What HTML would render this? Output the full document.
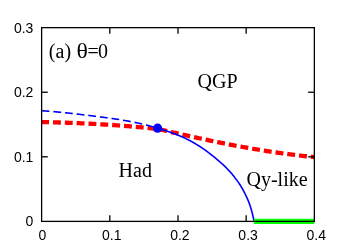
<!DOCTYPE html>
<html><head><meta charset="utf-8"><style>
html,body{margin:0;padding:0;background:#fff;}
svg{display:block;will-change:transform}
text{font-family:"Liberation Sans",sans-serif;font-size:14px;fill:#000}
.s{font-family:"Liberation Serif",serif;font-size:20px}
</style></head><body>
<svg width="356" height="249" viewBox="0 0 356 249">
<rect width="356" height="249" fill="#fff"/>
<path d="M41.62,122.06 L43.59,122.10 L45.55,122.14 L47.52,122.19 L49.48,122.23 L51.45,122.28 L53.41,122.33 L55.38,122.39 L57.35,122.44 L59.31,122.50 L61.28,122.56 L63.24,122.62 L65.21,122.69 L67.17,122.76 L69.14,122.83 L71.11,122.90 L73.07,122.98 L75.04,123.05 L77.00,123.13 L78.97,123.22 L80.94,123.30 L82.90,123.39 L84.87,123.48 L86.83,123.57 L88.80,123.66 L90.76,123.76 L92.73,123.86 L94.70,123.96 L96.66,124.07 L98.63,124.17 L100.59,124.28 L102.56,124.39 L104.52,124.51 L106.49,124.62 L108.46,124.74 L110.42,124.87 L112.39,125.01 L114.35,125.15 L116.32,125.30 L118.28,125.44 L120.25,125.59 L122.22,125.75 L124.18,125.90 L126.15,126.06 L128.11,126.22 L130.08,126.38 L132.05,126.54 L134.01,126.71 L135.98,126.88 L137.94,127.05 L139.91,127.22 L141.87,127.40 L143.84,127.58 L145.81,127.76 L147.77,127.95 L149.74,128.13 L151.70,128.32 L153.67,128.51 L155.63,128.70 L157.60,128.90 L159.58,129.33 L161.57,129.79 L163.55,130.25 L165.54,130.71 L167.52,131.17 L169.51,131.62 L171.49,132.08 L173.47,132.53 L175.46,132.97 L177.44,133.42 L179.43,133.86 L181.41,134.30 L183.39,134.74 L185.38,135.17 L187.36,135.60 L189.35,136.03 L191.33,136.47 L193.32,136.92 L195.30,137.36 L197.28,137.80 L199.27,138.24 L201.25,138.67 L203.24,139.10 L205.22,139.53 L207.20,139.95 L209.19,140.37 L211.17,140.79 L213.16,141.20 L215.14,141.61 L217.13,142.02 L219.11,142.43 L221.09,142.83 L223.08,143.23 L225.06,143.62 L227.05,144.01 L229.03,144.40 L231.01,144.78 L233.00,145.16 L234.98,145.54 L236.97,145.91 L238.95,146.28 L240.94,146.64 L242.92,147.00 L244.90,147.36 L246.89,147.71 L248.87,148.06 L250.86,148.41 L252.84,148.75 L254.82,149.09 L256.81,149.42 L258.79,149.75 L260.78,150.07 L262.76,150.39 L264.75,150.71 L266.73,151.02 L268.71,151.32 L270.70,151.63 L272.68,151.92 L274.67,152.22 L276.65,152.50 L278.63,152.79 L280.62,153.07 L282.60,153.34 L284.59,153.61 L286.57,153.87 L288.56,154.13 L290.54,154.39 L292.52,154.64 L294.51,154.88 L296.49,155.12 L298.48,155.35 L300.46,155.58 L302.44,155.81 L304.43,156.03 L306.41,156.24 L308.40,156.45 L310.38,156.65 L312.37,156.85 L314.35,157.04" fill="none" stroke="#f00" stroke-width="4.3" stroke-dasharray="7.9 3.95" stroke-dashoffset="0.5"/>
<path d="M41.72,110.73 L42.37,110.78 L43.02,110.82 L43.67,110.86 L44.31,110.91 L44.96,110.95 L45.61,111.00 L46.26,111.04 L46.91,111.09 L47.56,111.14 L48.21,111.19 L48.85,111.24 L49.50,111.29 L50.15,111.34 L50.80,111.39 L51.44,111.45 L52.09,111.50 L52.74,111.55 L53.39,111.61 L54.03,111.67 L54.68,111.72 L55.33,111.78 L55.97,111.84 L56.62,111.90 L57.27,111.96 L57.91,112.02 L58.56,112.08 L59.21,112.14 L59.85,112.20 L60.50,112.26 L61.14,112.33 L61.79,112.39 L62.44,112.46 L63.08,112.52 L63.73,112.59 L64.37,112.65 L65.02,112.72 L65.66,112.79 L66.31,112.86 L66.96,112.92 L67.60,112.99 L68.25,113.06 L68.89,113.13 L69.54,113.20 L70.18,113.27 L70.83,113.35 L71.47,113.42 L72.12,113.49 L72.76,113.56 L73.41,113.64 L74.05,113.71 L74.70,113.78 L75.34,113.86 L75.99,113.93 L76.64,114.01 L77.28,114.08 L77.93,114.16 L78.57,114.23 L79.22,114.31 L79.86,114.39 L80.51,114.46 L81.15,114.54 L81.80,114.62 L82.44,114.70 L83.09,114.78 L83.74,114.85 L84.38,114.93 L85.03,115.01 L85.67,115.09 L86.32,115.17 L86.97,115.25 L87.61,115.33 L88.26,115.41 L88.90,115.49 L89.55,115.57 L90.20,115.65 L90.84,115.73 L91.49,115.81 L92.14,115.89 L92.78,115.97 L93.43,116.06 L94.08,116.14 L94.73,116.22 L95.37,116.30 L96.02,116.38 L96.67,116.46 L97.31,116.55 L97.96,116.63 L98.61,116.71 L99.26,116.79 L99.90,116.88 L100.55,116.96 L101.20,117.04 L101.85,117.13 L102.50,117.21 L103.14,117.30 L103.79,117.38 L104.44,117.47 L105.09,117.56 L105.73,117.64 L106.38,117.73 L107.03,117.82 L107.68,117.90 L108.32,117.99 L108.97,118.08 L109.62,118.17 L110.27,118.26 L110.91,118.35 L111.56,118.44 L112.21,118.53 L112.85,118.63 L113.50,118.72 L114.15,118.81 L114.79,118.91 L115.44,119.00 L116.09,119.10 L116.73,119.19 L117.38,119.29 L118.03,119.39 L118.67,119.49 L119.32,119.59 L119.96,119.69 L120.61,119.79 L121.25,119.90 L121.90,120.01 L122.54,120.12 L123.19,120.23 L123.83,120.34 L124.47,120.45 L125.12,120.57 L125.76,120.68 L126.40,120.80 L127.05,120.91 L127.69,121.03 L128.33,121.15 L128.97,121.27 L129.62,121.39 L130.26,121.51 L130.90,121.63 L131.54,121.76 L132.18,121.88 L132.82,122.01 L133.46,122.13 L134.10,122.26 L134.74,122.39 L135.38,122.52 L136.02,122.65 L136.65,122.78 L137.29,122.92 L137.93,123.05 L138.57,123.19 L139.20,123.33 L139.84,123.47 L140.48,123.61 L141.11,123.76 L141.75,123.91 L142.38,124.06 L143.01,124.21 L143.65,124.37 L144.28,124.52 L144.91,124.68 L145.55,124.83 L146.18,124.99 L146.81,125.15 L147.44,125.32 L148.07,125.48 L148.70,125.65 L149.33,125.81 L149.96,125.98 L150.59,126.15 L151.22,126.31 L151.84,126.48 L152.47,126.65 L153.10,126.82 L153.72,127.00 L154.35,127.17 L154.97,127.35 L155.60,127.53 L156.22,127.71 L156.84,127.89 L157.47,128.08" fill="none" stroke="#00f" stroke-width="1.6" stroke-dasharray="7.8 3.9"/>
<path d="M156.84,127.89 L157.47,128.08 L158.09,128.26 L158.71,128.44 L159.33,128.63 L159.95,128.82 L160.57,129.01 L161.19,129.20 L161.81,129.39 L162.42,129.59 L163.04,129.78 L163.66,129.98 L164.27,130.18 L164.89,130.38 L165.50,130.59 L166.11,130.80 L166.73,131.01 L167.34,131.22 L167.95,131.43 L168.56,131.64 L169.17,131.86 L169.78,132.08 L170.39,132.30 L171.00,132.52 L171.60,132.73 L172.21,132.95 L172.81,133.18 L173.42,133.40 L174.02,133.63 L174.62,133.85 L175.23,134.08 L175.83,134.32 L176.43,134.55 L177.03,134.79 L177.63,135.03 L178.23,135.27 L178.82,135.51 L179.42,135.76 L180.02,136.01 L180.61,136.26 L181.20,136.51 L181.80,136.77 L182.39,137.03 L182.98,137.29 L183.57,137.55 L184.16,137.82 L184.75,138.09 L185.34,138.36 L185.92,138.63 L186.51,138.91 L187.09,139.19 L187.68,139.47 L188.26,139.78 L188.84,140.08 L189.42,140.39 L190.00,140.71 L190.58,141.02 L191.16,141.34 L191.74,141.66 L192.31,141.98 L192.89,142.31 L193.46,142.63 L194.04,142.96 L194.61,143.30 L195.18,143.63 L195.75,143.97 L196.31,144.31 L196.88,144.65 L197.45,145.00 L198.01,145.35 L198.57,145.70 L199.13,146.05 L199.69,146.41 L200.25,146.76 L200.81,147.12 L201.36,147.49 L201.92,147.85 L202.47,148.22 L203.02,148.59 L203.57,148.96 L204.12,149.34 L204.66,149.72 L205.21,150.12 L205.75,150.51 L206.29,150.92 L206.83,151.32 L207.37,151.72 L207.91,152.13 L208.44,152.54 L208.98,152.95 L209.51,153.37 L210.04,153.79 L210.56,154.20 L211.09,154.60 L211.61,155.01 L212.13,155.41 L212.65,155.82 L213.17,156.23 L213.69,156.65 L214.20,157.06 L214.71,157.48 L215.22,157.90 L215.73,158.32 L216.24,158.75 L216.74,159.17 L217.24,159.60 L217.74,160.04 L218.24,160.47 L218.73,160.89 L219.22,161.31 L219.71,161.72 L220.20,162.14 L220.69,162.56 L221.17,162.98 L221.65,163.41 L222.13,163.84 L222.60,164.27 L223.08,164.70 L223.55,165.14 L224.02,165.57 L224.48,166.01 L224.94,166.45 L225.38,166.90 L225.82,167.35 L226.26,167.80 L226.69,168.25 L227.12,168.70 L227.55,169.15 L227.97,169.58 L228.40,170.02 L228.81,170.46 L229.23,170.90 L229.64,171.34 L230.06,171.79 L230.46,172.24 L230.87,172.69 L231.26,173.14 L231.64,173.60 L232.01,174.04 L232.39,174.49 L232.76,174.94 L233.12,175.39 L233.48,175.84 L233.84,176.30 L234.20,176.76 L234.56,177.22 L234.91,177.69 L235.25,178.16 L235.63,178.65 L236.01,179.14 L236.39,179.63 L236.76,180.13 L237.13,180.62 L237.50,181.13 L237.87,181.63 L238.23,182.13 L238.59,182.64 L238.94,183.15 L239.30,183.67 L239.64,184.22 L239.99,184.76 L240.33,185.31 L240.67,185.85 L241.00,186.40 L241.34,186.95 L241.66,187.51 L241.99,188.07 L242.31,188.62 L242.62,189.18 L242.94,189.75 L243.25,190.31 L243.55,190.88 L243.86,191.45 L244.15,192.02 L244.45,192.59 L244.75,193.16 L245.04,193.74 L245.33,194.32 L245.62,194.90 L245.90,195.48 L246.18,196.07 L246.45,196.65 L246.72,197.24 L246.99,197.83 L247.25,198.43 L247.51,199.02 L247.77,199.62 L248.02,200.22 L248.27,200.82 L248.51,201.42 L248.75,202.02 L248.98,202.63 L249.21,203.24 L249.44,203.85 L249.66,204.46 L249.87,205.08 L250.08,205.69 L250.29,206.31 L250.49,206.93 L250.69,207.55 L250.88,208.18 L251.07,208.80 L251.26,209.43 L251.44,210.06 L251.61,210.69 L251.78,211.33 L251.95,211.96 L252.11,212.60 L252.27,213.24 L252.42,213.88 L252.57,214.52 L252.72,215.17 L252.88,215.81 L253.03,216.46 L253.18,217.11 L253.33,217.76 L253.47,218.42 L253.60,219.07 L253.73,219.73 L253.86,220.39 L253.97,221.05" fill="none" stroke="#00f" stroke-width="1.6"/>
<line x1="253.8" y1="221.3" x2="314.35" y2="221.3" stroke="#0f0" stroke-width="5.2"/>
<circle cx="157.6" cy="128.15" r="4.6" fill="#00f"/>
<rect x="41.62" y="27.65" width="272.73" height="193.73" fill="none" stroke="#000" stroke-width="1.3"/>
<g stroke="#000" stroke-width="1.3">
<line x1="109.80" y1="221.38" x2="109.80" y2="215.18"/><line x1="109.80" y1="27.65" x2="109.80" y2="33.85"/>
<line x1="177.99" y1="221.38" x2="177.99" y2="215.18"/><line x1="177.99" y1="27.65" x2="177.99" y2="33.85"/>
<line x1="246.17" y1="221.38" x2="246.17" y2="215.18"/><line x1="246.17" y1="27.65" x2="246.17" y2="33.85"/>
<line x1="41.62" y1="156.80" x2="47.82" y2="156.80"/><line x1="314.35" y1="156.80" x2="308.15" y2="156.80"/>
<line x1="41.62" y1="92.23" x2="47.82" y2="92.23"/><line x1="314.35" y1="92.23" x2="308.15" y2="92.23"/>
</g>
<g>
<text x="42.5" y="240" text-anchor="middle">0</text>
<text x="111.7" y="240" text-anchor="middle">0.1</text>
<text x="179.9" y="240" text-anchor="middle">0.2</text>
<text x="248.1" y="240" text-anchor="middle">0.3</text>
<text x="316.2" y="240" text-anchor="middle">0.4</text>
<text x="33.4" y="226" text-anchor="end">0</text>
<text x="33.4" y="162" text-anchor="end">0.1</text>
<text x="33.4" y="97" text-anchor="end">0.2</text>
<text x="33.4" y="33" text-anchor="end">0.3</text>
<text class="s" y="58"><tspan x="48.7 55.6 64.6 71">(a) </tspan><tspan x="76.5" textLength="11.4" lengthAdjust="spacingAndGlyphs">θ</tspan><tspan x="87.5 98">=0</tspan></text>
<text class="s" x="197.5" y="87.5">QGP</text>
<text class="s" x="118.6" y="176.6">Had</text>
<text class="s" x="246.5" y="186.2">Qy-like</text>
</g>
</svg></body></html>
